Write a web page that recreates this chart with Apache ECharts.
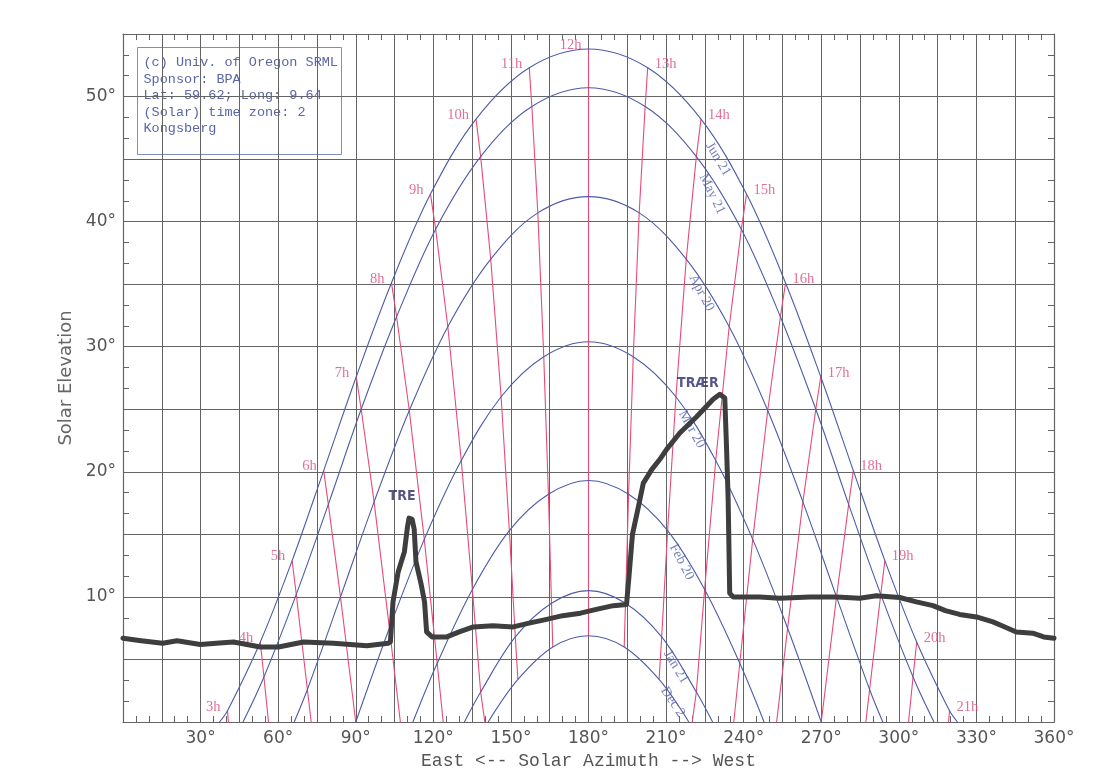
<!DOCTYPE html>
<html>
<head>
<meta charset="utf-8">
<script src="https://cdn.jsdelivr.net/npm/echarts@6/dist/echarts.min.js"></script>
<style>
  html, body { margin: 0; padding: 0; background: #fff; }
  #sunchart { width: 1117px; height: 769px; }
</style>
</head>
<body>
<div id="sunchart"></div>
<script>
var chartDom = document.getElementById('sunchart');
var myChart = echarts.init(chartDom);
var option;

// date curves [azimuth, elevation]
var jun21 = [[37.3, 0], [40.4, 0.9], [53.1, 6.4], [65.4, 12.9], [77.6, 20.1], [90.2, 27.6], [103.8, 35.1], [118.9, 42.2], [136.5, 48.2], [157.1, 52.3], [180, 53.8], [202.9, 52.3], [223.5, 48.2], [241.1, 42.2], [256.2, 35.1], [269.8, 27.6], [282.4, 20.1], [294.6, 12.9], [306.9, 6.4], [319.6, 0.9], [322.7, 0]];
var may21 = [[46.4, 0], [54.5, 3.6], [67.0, 10.2], [79.4, 17.4], [92.1, 25.0], [105.8, 32.4], [120.9, 39.4], [138.3, 45.2], [158.1, 49.2], [180, 50.7], [201.9, 49.2], [221.7, 45.2], [239.1, 39.4], [254.2, 32.4], [267.9, 25.0], [280.6, 17.4], [293.0, 10.2], [305.5, 3.6], [313.6, 0]];
var apr20 = [[66.2, 0], [71.3, 2.6], [84.1, 10.0], [97.1, 17.6], [110.7, 24.9], [125.6, 31.6], [142.2, 37.0], [160.4, 40.7], [180, 42.0], [199.6, 40.7], [217.8, 37.0], [234.4, 31.6], [249.3, 24.9], [262.9, 17.6], [275.9, 10.0], [288.7, 2.6], [293.8, 0]];
var mar20 = [[90, 0], [103.0, 7.5], [116.5, 14.6], [130.8, 20.9], [146.2, 26.0], [162.7, 29.2], [180, 30.4], [197.3, 29.2], [213.8, 26.0], [229.2, 20.9], [243.5, 14.6], [257.0, 7.5], [270, 0]];
var feb20 = [[112.1, 0], [121.5, 4.7], [135.1, 10.6], [149.4, 15.3], [164.5, 18.2], [180, 19.3], [195.5, 18.2], [210.6, 15.3], [224.9, 10.6], [238.5, 4.7], [247.9, 0]];
var jan21 = [[132.0, 0], [138.3, 2.4], [151.7, 6.8], [165.7, 9.5], [180, 10.5], [194.3, 9.5], [208.3, 6.8], [221.7, 2.4], [228.0, 0]];
var dec21 = [[141.2, 0], [152.7, 3.4], [166.2, 6.0], [180, 6.9], [193.8, 6.0], [207.3, 3.4], [218.8, 0]];
var dateCurves = [jun21, may21, apr20, mar20, feb20, jan21, dec21];

// curve names as printed along the afternoon side: [az, el, text, angle]
var dateNames = [
  [230.1, 45.0, 'Jun 21', -59],
  [227.8, 42.2, 'May 21', -64],
  [223.7, 34.3, 'Apr 20', -62],
  [219.9, 23.4, 'Mar 20', -61],
  [216.0, 12.8, 'Feb 20', -63],
  [213.8, 4.4, 'Jan 21', -59],
  [212.6, 1.6, 'Dec 2', -56]
];

// hour lines (solar time), from Jun 21 down to Dec 21 / horizon
var hourNames = ['3h', '4h', '5h', '6h', '7h', '8h', '9h', '10h', '11h', '12h',
  '13h', '14h', '15h', '16h', '17h', '18h', '19h', '20h', '21h'];
var hourLines = [
  [[40.4, 0.9], [41.6, -2.1]],
  [[53.1, 6.4], [54.5, 3.6], [58.3, -4.2]],
  [[65.4, 12.9], [67.0, 10.2], [71.3, 2.6], [77.0, -7.5]],
  [[77.6, 20.1], [79.4, 17.4], [84.1, 10.0], [90, 0]],
  [[90.2, 27.6], [92.1, 25.0], [97.1, 17.6], [103.0, 7.5], [108.5, -2.2]],
  [[103.8, 35.1], [105.8, 32.4], [110.7, 24.9], [116.5, 14.6], [121.5, 4.7], [125.4, -3.2]],
  [[118.9, 42.2], [120.9, 39.4], [125.6, 31.6], [130.8, 20.9], [135.1, 10.6], [138.3, 2.4], [140.5, -0.9]],
  [[136.5, 48.2], [138.3, 45.2], [142.2, 37.0], [146.2, 26.0], [149.4, 15.3], [151.7, 6.8], [152.7, 3.4]],
  [[157.1, 52.3], [158.1, 49.2], [160.4, 40.7], [162.7, 29.2], [164.5, 18.2], [165.7, 9.5], [166.2, 6.0]],
  [[180, 53.8], [180, 6.9]],
  [[202.9, 52.3], [201.9, 49.2], [199.6, 40.7], [197.3, 29.2], [195.5, 18.2], [194.3, 9.5], [193.8, 6.0]],
  [[223.5, 48.2], [221.7, 45.2], [217.8, 37.0], [213.8, 26.0], [210.6, 15.3], [208.3, 6.8], [207.3, 3.4]],
  [[241.1, 42.2], [239.1, 39.4], [234.4, 31.6], [229.2, 20.9], [224.9, 10.6], [221.7, 2.4], [219.5, -0.9]],
  [[256.2, 35.1], [254.2, 32.4], [249.3, 24.9], [243.5, 14.6], [238.5, 4.7], [234.6, -3.2]],
  [[269.8, 27.6], [267.9, 25.0], [262.9, 17.6], [257.0, 7.5], [251.5, -2.2]],
  [[282.4, 20.1], [280.6, 17.4], [275.9, 10.0], [270, 0]],
  [[294.6, 12.9], [293.0, 10.2], [288.7, 2.6], [283.0, -7.5]],
  [[306.9, 6.4], [305.5, 3.6], [301.7, -4.2]],
  [[319.6, 0.9], [318.4, -2.1]]
];

// hand drawn skyline (trees)
var skyline = [[0, 6.7], [7, 6.5], [15.3, 6.3], [20.9, 6.5], [29.9, 6.2], [36, 6.3], [42.7, 6.4], [53.1, 6.0],
  [60.1, 6.0], [69.8, 6.4], [81.4, 6.3], [94.3, 6.1], [102.6, 6.3], [103.4, 6.4], [104.4, 9.6], [106.4, 12.0],
  [108.8, 13.6], [110.0, 15.6], [110.6, 16.3], [111.8, 16.2], [112.6, 15.4], [113.3, 12.8], [115.3, 11.0],
  [116.6, 9.6], [117.4, 7.2], [119.5, 6.8], [125.2, 6.8], [130, 7.2], [135.5, 7.6], [143, 7.7], [150.9, 7.6],
  [157, 7.9], [163.8, 8.2], [170, 8.5], [176.9, 8.7], [183, 9.0], [189.6, 9.3], [194.7, 9.4], [195.6, 11.5],
  [197.0, 15.0], [199.2, 17.1], [201.2, 19.1], [204.5, 20.2], [207.6, 21.0], [210.2, 21.8], [215.3, 23.1],
  [221.8, 24.4], [228.2, 25.8], [230.8, 26.2], [232.7, 25.9], [233.4, 21.8], [234.0, 17.8], [234.6, 10.3],
  [235.9, 10.0], [246.2, 10.0], [254.0, 9.9], [265.6, 10.0], [275.9, 10.0], [284.9, 9.9], [291.3, 10.1],
  [300.3, 9.95], [306.8, 9.6], [313.2, 9.3], [318, 8.9], [323.5, 8.6], [330.0, 8.4], [336.4, 8.0],
  [341, 7.6], [345.4, 7.2], [351.8, 7.1], [356, 6.8], [360, 6.7]];
var skylineNotes = [[107.9, 18.0, 'TRE'], [222.3, 27.1, 'TRÆR']];

var infoLines = ['(c) Univ. of Oregon SRML', 'Sponsor: BPA', 'Lat: 59.62; Long: 9.64',
  '(Solar) time zone: 2', 'Kongsberg'];

var blue = '#4d5ba8';
var red = '#e84a76';
var gridGray = '#646464';

var series = [];
dateCurves.forEach(function (c) {
  series.push({
    type: 'line', data: c, smooth: 0.35, symbol: 'none', silent: true,
    lineStyle: { color: blue, width: 1.1 }, z: 3
  });
});
hourLines.forEach(function (c) {
  series.push({
    type: 'line', data: c, symbol: 'none', silent: true,
    lineStyle: { color: red, width: 1.1 }, z: 2
  });
});
series.push({
  type: 'scatter', symbolSize: 0, silent: true, z: 5,
  data: hourLines.map(function (c, i) {
    return {
      value: c[0], name: hourNames[i],
      label: { position: i < 10 ? 'left' : 'right' }
    };
  }),
  label: {
    show: true, formatter: '{b}', distance: 7, offset: [0, -4],
    color: '#db4a7c', fontSize: 14.5, fontFamily: 'Liberation Serif'
  }
});
series.push({
  type: 'scatter', symbolSize: 0, silent: true, z: 5,
  data: dateNames.map(function (d) {
    return { value: [d[0], d[1]], name: d[2], label: { rotate: d[3] } };
  }),
  label: {
    show: true, position: 'inside', formatter: '{b}',
    color: '#5462ad', fontSize: 14, fontFamily: 'Liberation Serif'
  }
});
series.push({
  type: 'line', data: skyline, symbol: 'none', silent: true, z: 6,
  lineStyle: { color: '#3e3e3e', width: 5, join: 'round', cap: 'round' }
});
series.push({
  type: 'scatter', symbolSize: 0, silent: true, z: 7,
  data: skylineNotes.map(function (d) {
    return { value: [d[0], d[1]], name: d[2] };
  }),
  label: {
    show: true, position: 'inside', formatter: '{b}',
    color: '#2a2a68', fontSize: 14, fontWeight: 'bold',
    fontFamily: 'DejaVu Sans Condensed'
  }
});

var xAxisBase = {
  type: 'value', min: 0, max: 360, interval: 15,
  axisLine: { show: true, onZero: false, lineStyle: { color: gridGray, width: 1.2 } },
  axisTick: { show: true, inside: true, length: 6, lineStyle: { color: gridGray } },
  minorTick: { show: true, splitNumber: 3, length: 6, lineStyle: { color: gridGray } },
  splitLine: { show: true, lineStyle: { color: gridGray, width: 1 } }
};
var yAxisBase = {
  type: 'value', min: 0, max: 55, interval: 5,
  axisLine: { show: true, onZero: false, lineStyle: { color: gridGray, width: 1.2 } },
  axisTick: { show: true, inside: true, length: 6, lineStyle: { color: gridGray } },
  minorTick: { show: true, splitNumber: 3, length: 6, lineStyle: { color: gridGray } },
  splitLine: { show: true, lineStyle: { color: gridGray, width: 1 } }
};

option = {
  backgroundColor: '#fff',
  animation: false,
  grid: { left: 123, right: 63, top: 34, bottom: 47, outerBoundsMode: 'none', containLabel: false },
  xAxis: [
    Object.assign({}, xAxisBase, {
      position: 'bottom',
      name: 'East <-- Solar Azimuth --> West',
      nameLocation: 'middle', nameGap: 28,
      nameTextStyle: { color: '#555', fontSize: 18, fontFamily: 'Liberation Mono' },
      axisLabel: {
        color: '#555', fontSize: 17, fontFamily: 'DejaVu Sans', margin: 8,
        formatter: function (v) { return v > 0 && v % 30 === 0 ? v + '°' : ''; }
      }
    }),
    Object.assign({}, xAxisBase, {
      position: 'top', axisLabel: { show: false }, splitLine: { show: false }
    })
  ],
  yAxis: [
    Object.assign({}, yAxisBase, {
      position: 'left',
      name: 'Solar Elevation',
      nameLocation: 'middle', nameGap: 39,
      nameTextStyle: { color: '#666', fontSize: 18, fontFamily: 'DejaVu Sans' },
      axisLabel: {
        color: '#555', fontSize: 17, fontFamily: 'DejaVu Sans', margin: 7,
        formatter: function (v) { return v > 0 && v % 10 === 0 ? v + '°' : ''; }
      }
    }),
    Object.assign({}, yAxisBase, {
      position: 'right', axisLabel: { show: false }, splitLine: { show: false }
    })
  ],
  graphic: [
    {
      type: 'group', left: 137, top: 47, z: 20,
      children: [
        {
          type: 'rect', shape: { x: 0, y: 0, width: 204, height: 107 },
          style: { fill: '#fff', stroke: '#7d8cc4', lineWidth: 1 }
        },
        {
          type: 'text', x: 6, y: 7,
          style: {
            text: infoLines.join('\n'), fill: '#5a66a8',
            font: '13.5px "Liberation Mono"', lineHeight: 16.5
          }
        }
      ]
    }
  ],
  series: series
};

option && myChart.setOption(option);
</script>
</body>
</html>
